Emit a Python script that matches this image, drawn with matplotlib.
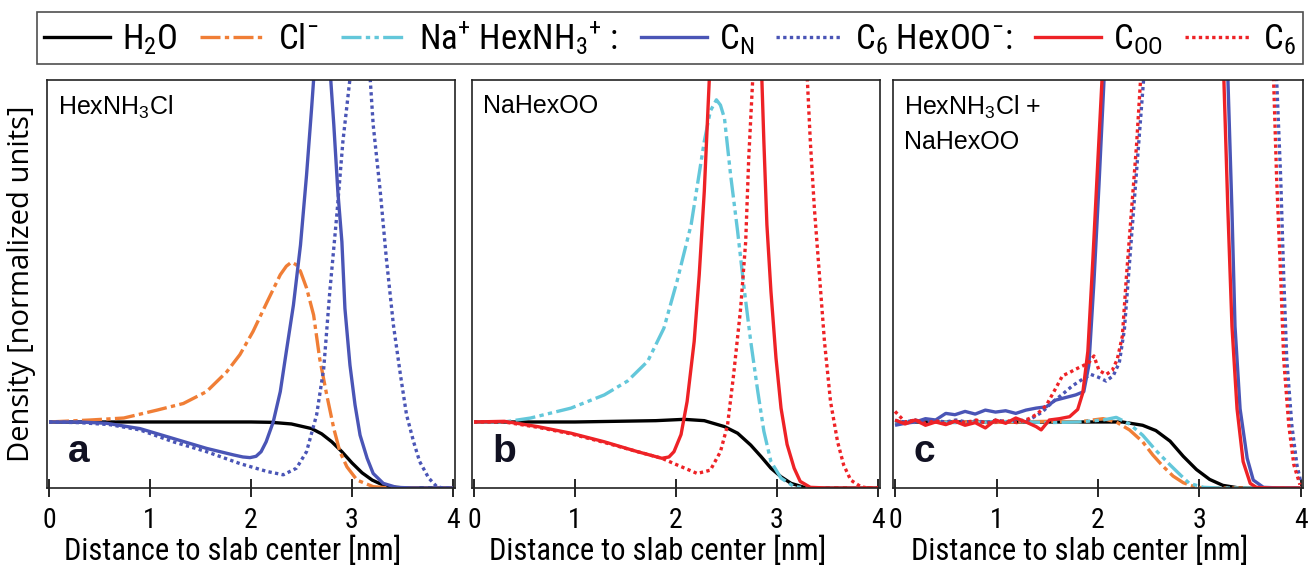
import matplotlib
matplotlib.use("Agg")
import matplotlib.pyplot as plt
from matplotlib.lines import Line2D

COND = ['Roboto Condensed', 'Archivo Narrow', 'Barlow Semi Condensed', 'DejaVu Sans']
plt.rcParams['font.family'] = COND
plt.rcParams['mathtext.default'] = 'regular'

# ---------------- data ----------------
# Panel a : HexNH3Cl
a_h2o_x = [0.0, 1.0, 2.0, 2.2, 2.4, 2.6, 2.7, 2.8, 2.9, 3.0, 3.1, 3.2, 3.3, 3.4, 3.5, 4.0]
a_h2o_y = [1.0, 1.0, 1.0, 0.995, 0.97, 0.90, 0.82, 0.70, 0.55, 0.38, 0.23, 0.12, 0.05, 0.015, 0.003, 0.0]

a_cl_x = [0.0, 0.41, 0.74, 1.07, 1.33, 1.56, 1.76, 1.89, 2.02, 2.16, 2.29, 2.35, 2.40, 2.45, 2.49,
          2.55, 2.62, 2.68, 2.75, 2.82, 2.88, 2.95, 3.05, 3.21, 3.38, 4.0]
a_cl_y = [1.0, 1.03, 1.06, 1.18, 1.28, 1.46, 1.76, 2.02, 2.37, 2.82, 3.23, 3.36, 3.42, 3.38, 3.28,
          3.03, 2.62, 1.96, 1.41, 0.90, 0.55, 0.32, 0.12, 0.02, 0.0, 0.0]

a_cn_x = [0.0, 0.3, 0.57, 0.9, 1.23, 1.56, 1.83, 1.92, 1.99, 2.05, 2.10, 2.15, 2.22, 2.29, 2.35, 2.42,
          2.49, 2.55, 2.60, 2.63, 2.70, 2.78, 2.82, 2.86, 2.90, 2.93, 2.98, 3.03, 3.08, 3.15, 3.21,
          3.31, 3.44, 3.6, 4.0]
a_cn_y = [1.0, 1.0, 0.98, 0.90, 0.75, 0.60, 0.50, 0.47, 0.46, 0.48, 0.55, 0.70, 1.0, 1.46, 2.07, 2.77,
          3.68, 4.74, 5.75, 6.4, 9.0, 6.4, 5.5, 4.49, 3.73, 2.72, 1.86, 1.26, 0.80, 0.45, 0.22,
          0.07, 0.01, 0.0, 0.0]

a_c6_x = [0.0, 0.3, 0.6, 0.90, 1.23, 1.56, 1.89, 2.16, 2.32, 2.45, 2.55, 2.65, 2.72, 2.78, 2.85, 2.91,
          2.98, 3.08, 3.18, 3.21, 3.28, 3.34, 3.41, 3.48, 3.54, 3.61, 3.67, 3.76, 3.84, 3.9, 4.0]
a_c6_y = [1.0, 0.99, 0.96, 0.88, 0.70, 0.55, 0.37, 0.25, 0.20, 0.30, 0.55, 1.11, 1.81, 2.97, 4.14, 5.25,
          6.2, 9.0, 6.2, 5.5, 4.49, 3.48, 2.47, 1.71, 1.11, 0.70, 0.40, 0.15, 0.02, 0.0, 0.0]

# Panel b : NaHexOO
b_h2o_x = [0.0, 1.0, 1.8, 2.08, 2.28, 2.48, 2.61, 2.74, 2.84, 2.94, 3.04, 3.14, 3.27, 3.4, 4.0]
b_h2o_y = [1.0, 1.0, 1.02, 1.04, 1.02, 0.93, 0.83, 0.65, 0.48, 0.30, 0.17, 0.07, 0.01, 0.0, 0.0]

b_na_x = [0.0, 0.3, 0.56, 0.96, 1.29, 1.52, 1.72, 1.88, 2.01, 2.15, 2.28, 2.34, 2.40, 2.44, 2.48,
          2.54, 2.61, 2.67, 2.74, 2.81, 2.87, 2.94, 3.04, 3.17, 3.3, 4.0]
b_na_y = [1.0, 1.0, 1.06, 1.21, 1.41, 1.62, 1.92, 2.42, 3.13, 3.99, 5.25, 5.71, 5.88, 5.80, 5.6,
          4.75, 3.89, 3.08, 2.22, 1.46, 0.86, 0.40, 0.15, 0.02, 0.0, 0.0]

b_coo_x = [0.0, 0.30, 0.63, 0.96, 1.29, 1.62, 1.86, 1.93, 1.98, 2.05, 2.11, 2.18, 2.23, 2.28, 2.33,
           2.59, 2.85, 2.87, 2.90, 2.94, 2.99, 3.04, 3.10, 3.17, 3.23, 3.33, 3.5, 4.0]
b_coo_y = [1.0, 1.01, 0.93, 0.83, 0.70, 0.55, 0.45, 0.47, 0.55, 0.81, 1.31, 2.22, 3.23, 4.49, 6.2,
           9.0, 6.2, 5.25, 3.99, 2.98, 1.97, 1.21, 0.66, 0.30, 0.10, 0.01, 0.0, 0.0]

b_c6_x = [0.0, 0.30, 0.63, 0.96, 1.29, 1.62, 1.86, 2.01, 2.21, 2.34, 2.44, 2.51, 2.57, 2.64, 2.69,
          2.72, 2.76, 3.03, 3.30, 3.33, 3.37, 3.42, 3.47, 3.53, 3.60, 3.66, 3.73, 3.83, 3.9, 4.0]
b_c6_y = [1.0, 1.0, 0.92, 0.82, 0.69, 0.55, 0.45, 0.35, 0.22, 0.27, 0.55, 0.95, 1.71, 2.72, 3.73,
          4.99, 6.2, 9.0, 6.2, 5.25, 4.24, 3.23, 2.22, 1.31, 0.70, 0.35, 0.12, 0.02, 0.0, 0.0]

# Panel c : HexNH3Cl + NaHexOO
c_h2o_x = [0.0, 1.0, 2.0, 2.24, 2.44, 2.57, 2.71, 2.84, 2.97, 3.10, 3.23, 3.37, 3.5, 4.0]
c_h2o_y = [1.0, 1.0, 1.0, 1.0, 0.95, 0.87, 0.71, 0.48, 0.28, 0.13, 0.04, 0.005, 0.0, 0.0]

c_cl_x = [0.0, 0.3, 0.6, 0.9, 1.2, 1.5, 1.8, 2.05, 2.18, 2.31, 2.44, 2.54, 2.64, 2.74, 2.84, 2.97, 3.1, 4.0]
c_cl_y = [1.0, 0.99, 1.01, 0.99, 1.0, 1.01, 1.0, 1.05, 1.0, 0.88, 0.70, 0.50, 0.33, 0.18, 0.08, 0.01, 0.0, 0.0]

c_na_x = [0.0, 0.3, 0.6, 0.9, 1.2, 1.5, 1.8, 2.05, 2.18, 2.31, 2.44, 2.57, 2.71, 2.81, 2.90, 3.04, 3.2, 4.0]
c_na_y = [1.0, 1.01, 0.99, 1.0, 1.01, 0.99, 1.0, 1.03, 1.07, 0.97, 0.80, 0.57, 0.35, 0.20, 0.07, 0.01, 0.0, 0.0]

c_cn_x = [0.0, 0.10, 0.20, 0.30, 0.40, 0.50, 0.59, 0.69, 0.79, 0.89, 0.99, 1.09, 1.19, 1.29, 1.39,
          1.49, 1.58, 1.68, 1.78, 1.86, 1.91, 1.96, 2.01, 2.06, 2.68, 3.28, 3.32, 3.35, 3.40, 3.47,
          3.53, 3.63, 3.8, 4.0]
c_cn_y = [0.95, 0.98, 1.0, 1.05, 1.03, 1.13, 1.11, 1.16, 1.12, 1.18, 1.15, 1.17, 1.13, 1.18, 1.21,
          1.23, 1.33, 1.37, 1.41, 1.46, 1.86, 3.12, 4.6, 6.2, 12.0, 6.2, 4.2, 2.45, 1.2, 0.45,
          0.12, 0.01, 0.0, 0.0]

c_c6n_x = [0.0, 0.10, 0.20, 0.30, 0.40, 0.50, 0.60, 0.70, 0.80, 0.90, 1.00, 1.10, 1.20, 1.32, 1.45,
           1.55, 1.65, 1.75, 1.85, 1.93, 2.00, 2.08, 2.15, 2.21, 2.26, 2.30, 2.35, 2.40, 2.45, 3.10,
           3.76, 3.80, 3.83, 3.86, 3.91, 3.96, 4.0]
c_c6n_y = [1.02, 1.0, 1.03, 0.99, 1.02, 1.0, 1.03, 1.0, 1.02, 0.99, 1.03, 1.0, 1.02, 1.03, 1.15,
           1.30, 1.42, 1.55, 1.65, 1.72, 1.68, 1.62, 1.70, 1.90, 2.40, 3.2, 4.2, 5.2, 6.2, 12.0,
           6.2, 4.7, 3.2, 1.95, 0.95, 0.35, 0.08]

c_coo_x = [0.0, 0.10, 0.20, 0.30, 0.40, 0.50, 0.59, 0.69, 0.79, 0.89, 0.99, 1.09, 1.19, 1.29, 1.39,
           1.44, 1.52, 1.62, 1.72, 1.80, 1.85, 1.90, 1.95, 2.00, 2.04, 2.64, 3.24, 3.28, 3.32, 3.37,
           3.43, 3.50, 3.56, 3.7, 4.0]
c_coo_y = [1.03, 0.97, 1.03, 0.95, 1.0, 0.96, 1.01, 0.95, 0.99, 0.91, 1.03, 0.98, 1.06, 1.0, 0.93,
           0.88, 1.03, 1.05, 1.08, 1.19, 1.44, 2.07, 3.48, 5.0, 6.2, 12.0, 6.2, 4.2, 2.45, 1.2,
           0.4, 0.07, 0.01, 0.0, 0.0]

c_c6o_x = [0.0, 0.05, 0.10, 0.20, 0.30, 0.40, 0.50, 0.60, 0.70, 0.80, 0.90, 1.00, 1.10, 1.20, 1.32,
           1.40, 1.49, 1.58, 1.65, 1.72, 1.78, 1.85, 1.91, 1.96, 2.01, 2.08, 2.14, 2.19, 2.24, 2.28,
           2.33, 2.38, 2.42, 3.08, 3.73, 3.76, 3.80, 3.83, 3.88, 3.93, 3.99]
c_c6o_y = [1.16, 1.08, 1.0, 1.03, 0.98, 1.02, 0.97, 1.01, 0.99, 1.03, 0.98, 1.0, 1.02, 0.99, 1.05,
           1.12, 1.25, 1.50, 1.70, 1.75, 1.80, 1.85, 1.90, 2.0, 1.78, 1.72, 1.78, 1.95, 2.3, 3.2,
           4.2, 5.2, 6.2, 12.0, 6.2, 4.7, 3.2, 1.95, 0.95, 0.35, 0.05]

tick_values = [0, 1, 2, 3, 4]
tick_labels = ['0', '1', '2', '3', '4']
panel_titles = ['HexNH$_3$Cl', 'NaHexOO', 'HexNH$_3$Cl +\nNaHexOO']
panel_letters = ['a', 'b', 'c']

# ---------------- style ----------------
BLACK = '#000000'
ORANGE = '#F07E36'
CYAN = '#63C7DA'
BLUE = '#4A55B6'
RED = '#EE2226'
LW = 2.4
ls_cl = (0, (6, 1.3, 1.3, 1.3))
ls_na = (0, (6, 1.3, 1.3, 1.3, 1.3, 1.3))
ls_dot = (0, (1, 1))

W, H = 1308, 571
fig = plt.figure(figsize=(W / 100, H / 100), dpi=100)

def fx(px):
    return px / W

def fy(py):
    return 1 - py / H

top, bot = 80, 488
lefts = [47, 472, 893]
rights = [455, 880, 1303]
axes = []
for l, r in zip(lefts, rights):
    ax = fig.add_axes([fx(l), fy(bot), (r - l) / W, (bot - top) / H])
    axes.append(ax)

series = [
    [(a_h2o_x, a_h2o_y, BLACK, '-'), (a_cl_x, a_cl_y, ORANGE, ls_cl),
     (a_c6_x, a_c6_y, BLUE, ls_dot), (a_cn_x, a_cn_y, BLUE, '-')],
    [(b_h2o_x, b_h2o_y, BLACK, '-'), (b_na_x, b_na_y, CYAN, ls_na),
     (b_c6_x, b_c6_y, RED, ls_dot), (b_coo_x, b_coo_y, RED, '-')],
    [(c_h2o_x, c_h2o_y, BLACK, '-'), (c_cl_x, c_cl_y, ORANGE, ls_cl), (c_na_x, c_na_y, CYAN, ls_na),
     (c_c6n_x, c_c6n_y, BLUE, ls_dot), (c_cn_x, c_cn_y, BLUE, '-'),
     (c_c6o_x, c_c6o_y, RED, ls_dot), (c_coo_x, c_coo_y, RED, '-')],
]

for i, ax in enumerate(axes):
    for xs, ys, col, ls in series[i]:
        ax.plot(xs, ys, color=col, linestyle=ls, linewidth=LW, solid_capstyle='butt')
    ax.set_xlim(-0.02, 4.02)
    ax.set_ylim(0, 6.18)
    ax.set_yticks([])
    ax.set_xticks(tick_values)
    ax.set_xticklabels(tick_labels)
    ax.tick_params(axis='x', direction='inout', length=13, width=1.2, pad=7, labelsize=20)
    for sp in ax.spines.values():
        sp.set_linewidth(1.2)
        sp.set_color('#222222')
    ax.set_xlabel('Distance to slab center [nm]', fontsize=22)
    ax.xaxis.set_label_coords(0.455, -0.118)
    ax.text(0.027, 0.965, panel_titles[i], transform=ax.transAxes, ha='left', va='top',
            fontsize=18, family=['Liberation Sans', 'DejaVu Sans'], linespacing=1.45)
    ax.text(0.05, 0.064, panel_letters[i], transform=ax.transAxes, ha='left', va='baseline',
            fontsize=28, fontweight='bold', color='#111122', family=['Liberation Sans', 'DejaVu Sans'])

fig.text(fx(22), fy(284), 'Density [normalized units]', rotation=90, ha='center', va='center',
         fontsize=21, family=['Open Sans', 'DejaVu Sans'])

# legend
handles = [
    Line2D([], [], color=BLACK, lw=LW, ls='-'),
    Line2D([], [], color=ORANGE, lw=LW, ls=ls_cl),
    Line2D([], [], color=CYAN, lw=LW, ls=ls_na),
    Line2D([], [], color=BLUE, lw=LW, ls='-'),
    Line2D([], [], color=BLUE, lw=LW, ls=ls_dot),
    Line2D([], [], color=RED, lw=LW, ls='-'),
    Line2D([], [], color=RED, lw=LW, ls=ls_dot),
]
labels = ['H$_2$O', 'Cl$^{-}$', 'Na$^{+}$ HexNH$_3$$^{+}$ :', 'C$_N$', 'C$_6$ HexOO$^{-}$:',
          'C$_{OO}$', 'C$_6$']
leg = fig.legend(handles, labels, loc='lower left', ncol=7, mode='expand',
                 bbox_to_anchor=(fx(37), fy(64), (1303 - 37) / W, 56 / H),
                 fontsize=25, frameon=True, fancybox=False, edgecolor='#222222',
                 handlelength=1.9, handletextpad=0.35, columnspacing=0.5, borderpad=0.2,
                 borderaxespad=0)
leg.get_frame().set_linewidth(1.2)

fig.savefig('out.png', dpi=100)
